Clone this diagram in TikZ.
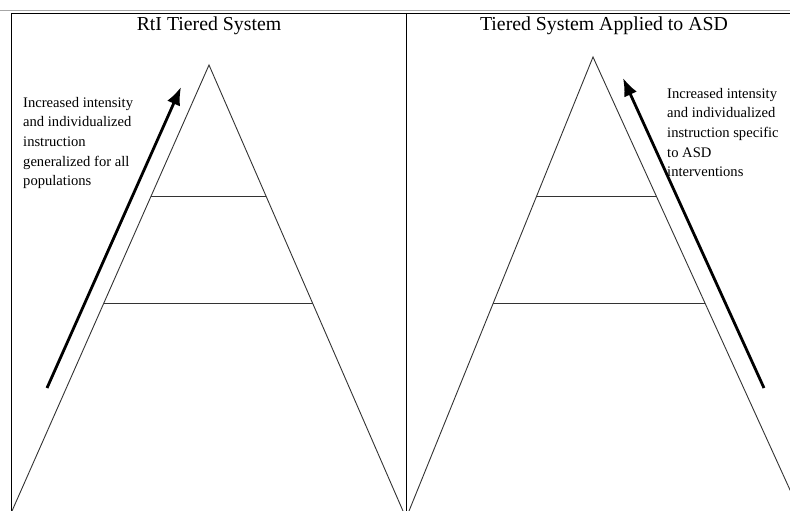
\documentclass[tikz,border=0pt]{standalone}
\usepackage{fontspec}
\setmainfont{Liberation Serif}
\usetikzlibrary{arrows.meta,positioning,calc}

\begin{document}
\begin{tikzpicture}[x=1pt, y=-1pt,
    tri/.style={draw=black!80, line width=0.9pt},
    rule/.style={draw=black, line width=0.9pt},
    push/.style={-{Latex[length=18pt,width=14pt]}, line width=2.8pt},
    ttl/.style={font=\fontsize{19.8}{22}\selectfont, anchor=base, inner sep=0pt},
    note/.style={font=\fontsize{14.6}{19.6}\selectfont, align=left, anchor=north west, inner sep=0pt}
]
\clip (0,0) rectangle (790,511);

% table frame
\draw[black!35, line width=1.6pt] (0,10.5) -- (790,10.5);
\draw[rule] (11,13) -- (790,13);
\draw[rule] (11.5,13) -- (11.5,511);
\draw[rule] (406.5,13) -- (406.5,511);

% titles
\node[ttl] (ltitle) at (209,31) {RtI Tiered System};
\node[ttl] (rtitle) at (604,31) {Tiered System Applied to ASD};

% left pyramid
\coordinate (lapex) at (209,65);
\coordinate (lbl) at (12,511);
\coordinate (lbr) at (403,511);
\draw[tri] (lbl) -- (lapex) -- (lbr);
\draw[tri] ($(lapex)!0.2937!(lbl)$) coordinate (lt1) -- ($(lapex)!0.2937!(lbr)$) coordinate (lt2);
\draw[tri] ($(lapex)!0.5336!(lbl)$) coordinate (lt3) -- ($(lapex)!0.5336!(lbr)$) coordinate (lt4);

% right pyramid
\coordinate (rapex) at (593,57);
\coordinate (rbl) at (409,511);
\coordinate (rbr) at (799.6,511);
\draw[tri] (rbl) -- (rapex) -- (rbr);
\draw[tri] ($(rapex)!0.3062!(rbl)$) coordinate (rt1) -- ($(rapex)!0.3062!(rbr)$) coordinate (rt2);
\draw[tri] ($(rapex)!0.5419!(rbl)$) coordinate (rt3) -- ($(rapex)!0.5419!(rbr)$) coordinate (rt4);

% intensity arrows
\coordinate (lfoot) at (47,388);
\coordinate (ltip) at (181,87);
\draw[push] (lfoot) -- (ltip);
\coordinate (rfoot) at (764,388);
\coordinate (rtip) at (623,78);
\draw[push] (rfoot) -- (rtip);

% notes
\node[note] (lnote) at (23,97) {Increased intensity\\ and individualized\\ instruction\\ generalized for all\\ populations};
\node[note] (rnote) at (667,88) {Increased intensity\\ and individualized\\ instruction specific\\ to ASD\\ interventions};
\end{tikzpicture}
\end{document}
